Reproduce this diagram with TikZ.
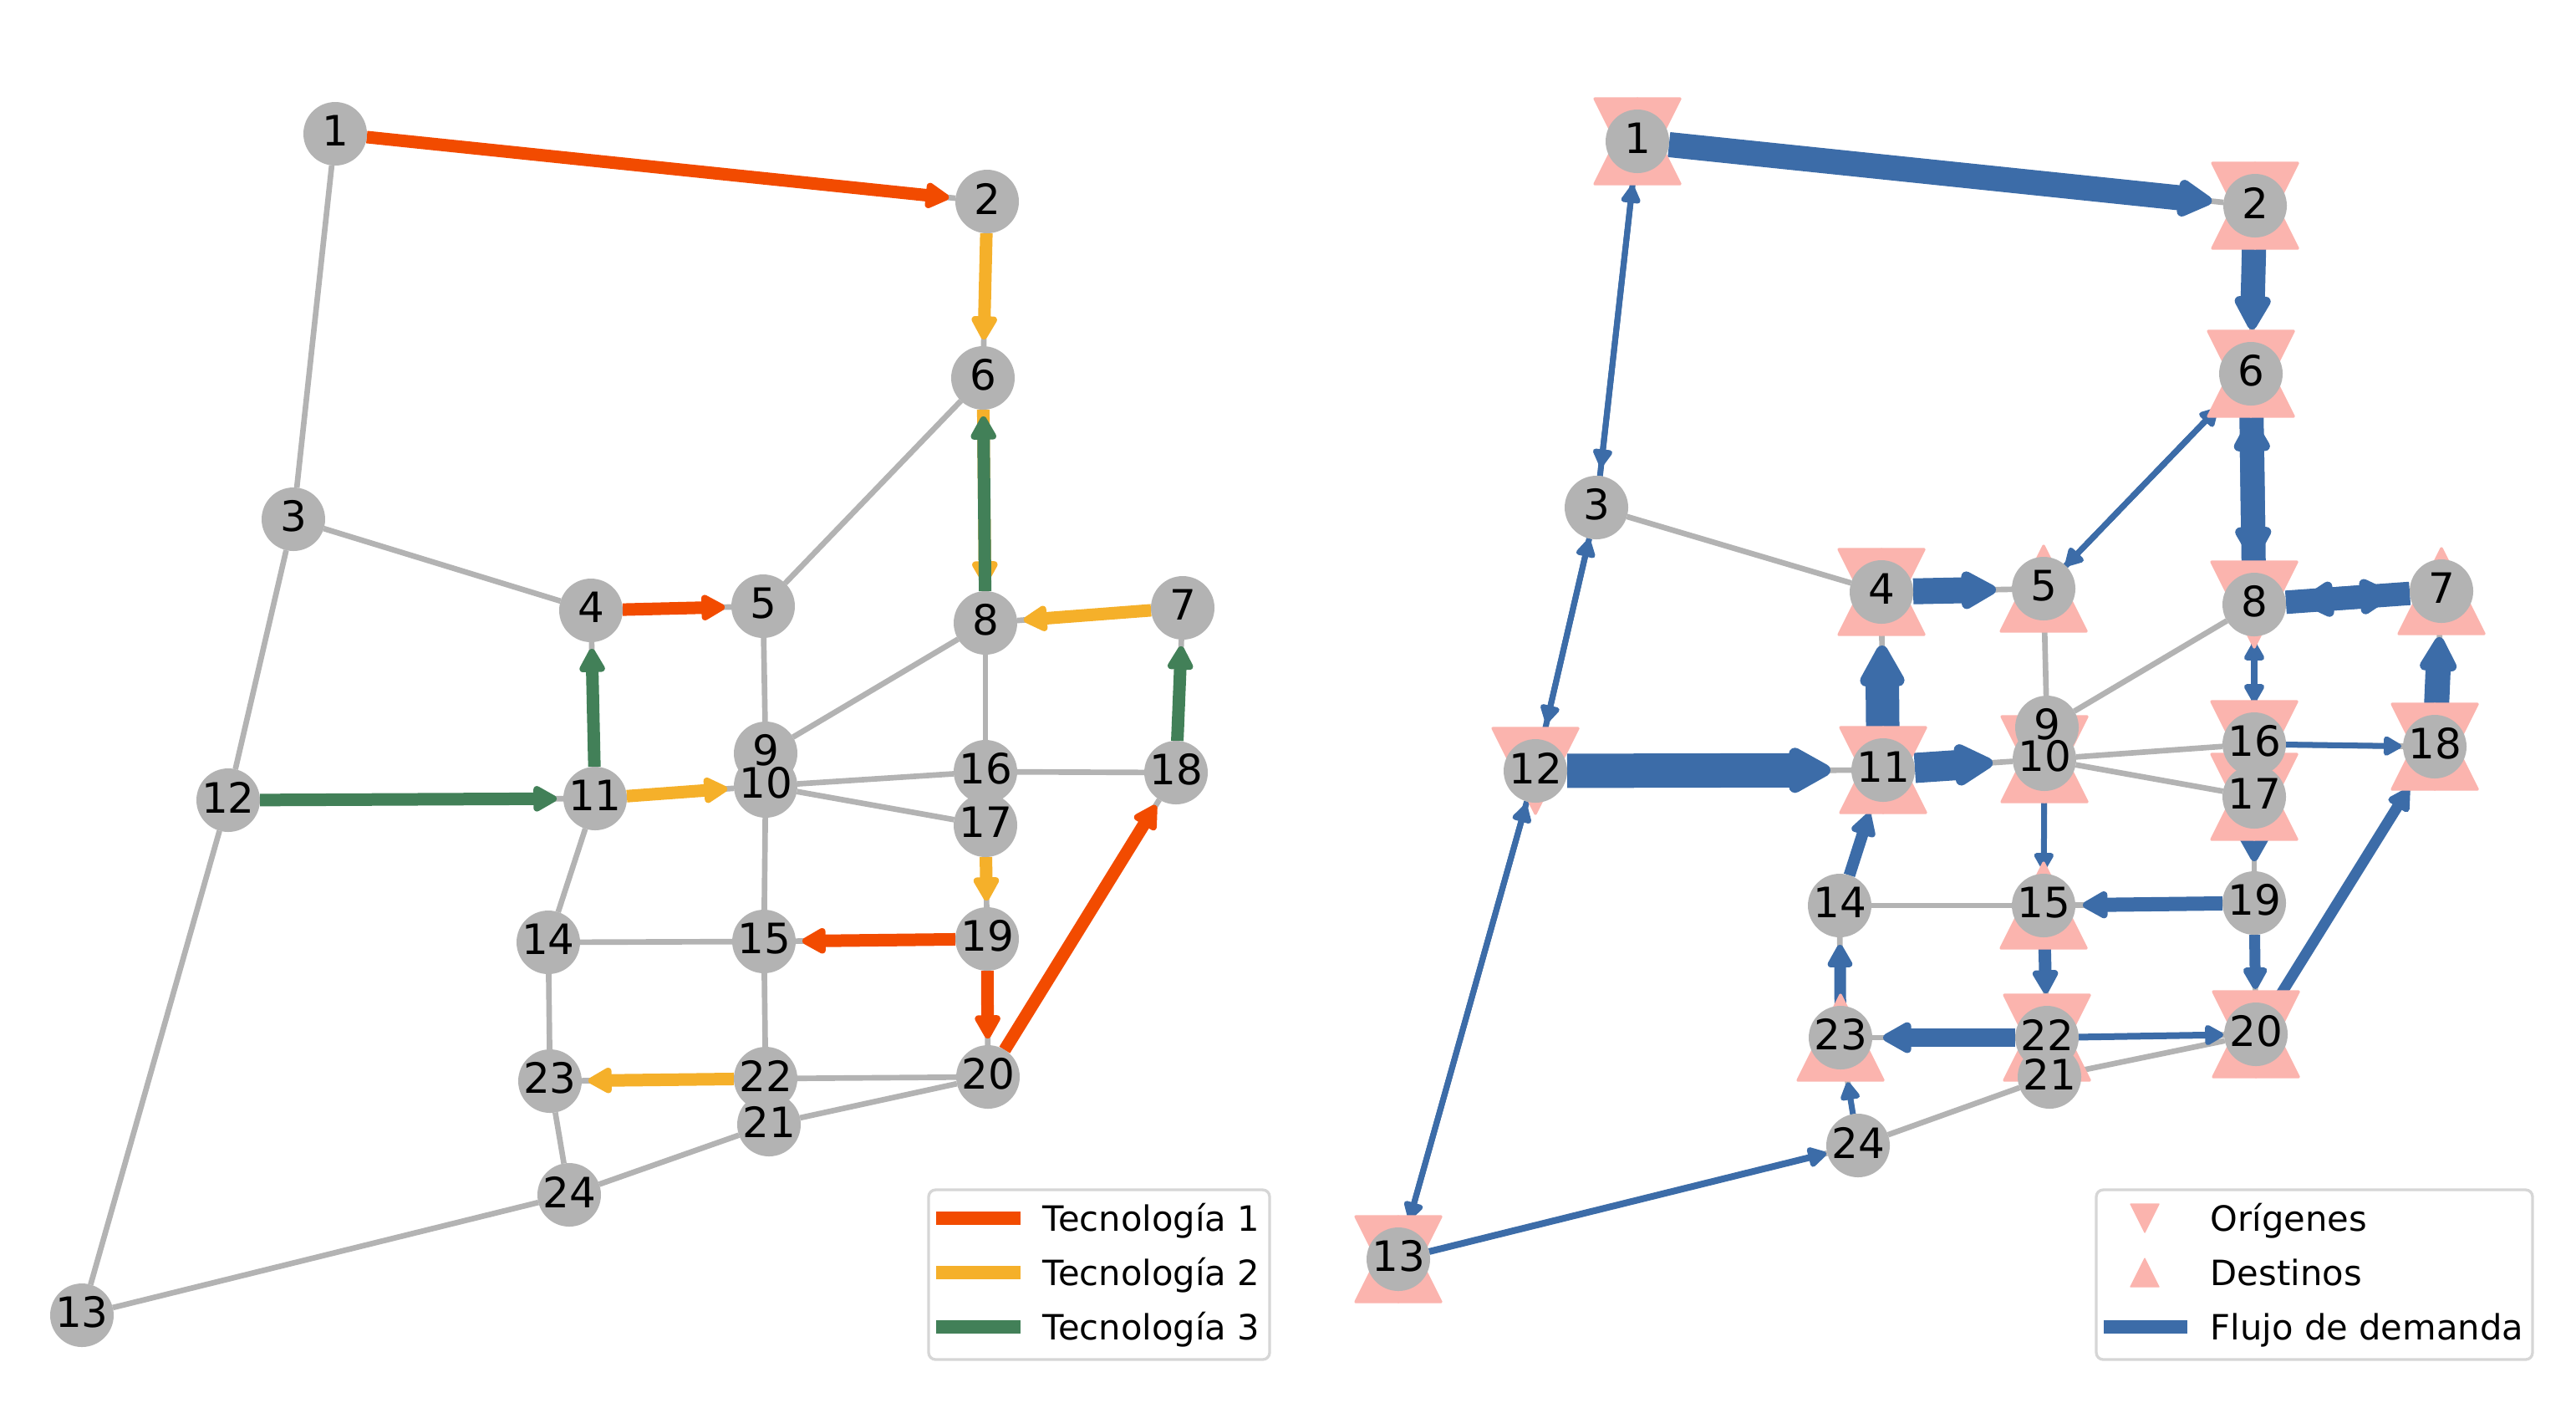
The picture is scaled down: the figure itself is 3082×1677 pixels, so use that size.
\documentclass[tikz,border=0pt]{standalone}
\usepackage{fontspec}
\setmainfont{DejaVu Sans}
\usetikzlibrary{arrows.meta}
\definecolor{ndgray}{RGB}{179,179,179}
\definecolor{tecA}{RGB}{242,75,0}
\definecolor{tecB}{RGB}{245,176,42}
\definecolor{tecC}{RGB}{66,128,88}
\definecolor{flowblue}{RGB}{60,108,168}
\definecolor{pinkc}{RGB}{251,180,174}
\definecolor{legedge}{RGB}{214,214,214}
\pgfdeclarelayer{edges}
\pgfdeclarelayer{flows}
\pgfdeclarelayer{tris}
\pgfsetlayers{edges,flows,tris,main}
\newcommand\otri[1]{\path[tri] ([shift={(-51,-51)}]#1.center) -- ([shift={(51,-51)}]#1.center) -- ([shift={(0,51)}]#1.center) -- cycle;}
\newcommand\dtri[1]{\path[tri] ([shift={(0,-51)}]#1.center) -- ([shift={(-51,51)}]#1.center) -- ([shift={(51,51)}]#1.center) -- cycle;}
\begin{document}
\begin{tikzpicture}[x=0.24pt,y=-0.24pt,
  nd/.style={circle,fill=ndgray,minimum size=18.24pt,inner sep=0pt,outer sep=0pt},
  lb/.style={inner sep=0pt,font=\fontsize{12}{14}\selectfont,yshift=0.8pt},
  gedge/.style={draw=ndgray,line width=1.6pt},
  tipA/.style={-{Triangle[round,length=4.2pt 1,width=4.5pt 1,line width=0pt 1]}},
  tec/.style={draw=#1,line width=3.6pt,shorten >=1.92pt,tipA},
  flw/.style 2 args={draw=flowblue,line width=#1*0.24pt,shorten >=#2*0.24pt,tipA},
  tri/.style={fill=pinkc,draw=pinkc,line width=0.8pt,line join=round},
  legbox/.style={draw=legedge,line width=0.8pt,rounded corners=2pt,fill=white},
  legtxt/.style={anchor=base west,inner sep=0pt,font=\fontsize{10}{12}\selectfont},
  legline/.style={line width=3.9pt}
]
\useasboundingbox (0,0) rectangle (3082,1677);

% ---------- nodes (circles) ----------
\foreach \n/\x/\y in {1/401/160,2/1181/241,3/351/621,4/707/730,5/913/725,6/1176/452,
  7/1415/727,8/1179/745,9/916/901,10/916/940,11/712/955,12/273/957,13/98/1573,
  14/656/1127,15/914/1126,16/1179/923,17/1179/987,18/1407/924,19/1181/1123,
  20/1182/1288,21/920/1345,22/916/1290,23/658/1293,24/681/1429}
  {\node[nd] (L\n) at (\x,\y) {};}
\foreach \n/\x/\y in {1/1959/169,2/2698/246,3/1910/607,4/2251/708,5/2445/704,6/2693/447,
  7/2921/707,8/2697/723,9/2449/870,10/2446/908,11/2253/921,12/1837/922,13/1673/1506,
  14/2201/1083,15/2445/1083,16/2697/890,17/2697/953,18/2913/893,19/2697/1080,
  20/2699/1237,21/2452/1288,22/2449/1241,23/2202/1241,24/2223/1370}
  {\node[nd] (R\n) at (\x,\y) {};}

% ---------- labels ----------
\foreach \n in {1,...,24} {
  \node[lb] (LT\n) at (L\n) {\n};
  \node[lb] (RT\n) at (R\n) {\n};
}

% ---------- network edges ----------
\begin{pgfonlayer}{edges}
\foreach \a/\b in {1/2,1/3,2/6,3/4,3/12,4/5,4/11,5/6,5/9,6/8,7/8,7/18,8/9,8/16,9/10,
  10/11,10/15,10/16,10/17,11/12,11/14,12/13,13/24,14/15,14/23,15/19,15/22,16/17,
  16/18,17/19,18/20,19/20,20/21,20/22,21/22,21/24,22/23,23/24} {
  \draw[gedge] (L\a) -- (L\b);
  \draw[gedge] (R\a) -- (R\b);
}
\end{pgfonlayer}

% ---------- technologies (left) ----------
\begin{pgfonlayer}{flows}
\foreach \a/\b in {1/2,4/5,19/15,19/20,20/18}
  {\draw[tec=tecA] (L\a) -- (L\b);}
\foreach \a/\b in {2/6,6/8,7/8,11/10,17/19,22/23}
  {\draw[tec=tecB] (L\a) -- (L\b);}
\foreach \a/\b in {8/6,11/4,12/11,18/7}
  {\draw[tec=tecC] (L\a) -- (L\b);}

% ---------- demand flows (right) ----------
\foreach \a/\b/\w/\s in {1/2/30/14,1/3/7/11,3/1/7/15,2/6/29/15,6/5/7/0,5/6/7/20,
  6/8/29/15,8/6/29/15,8/7/28/21,7/8/28/18,4/5/31/19,11/4/40/26,3/12/7/21,12/3/7/1,
  12/11/41/25,11/10/36/24,12/13/7/11,13/12/7/4,13/24/8/1,24/23/7/16,23/14/14/9,
  14/11/14/16,10/15/7/4,19/15/17/9,15/22/15/15,22/23/22/13,22/20/8/1,8/16/8/12,
  16/8/8/7,16/18/7/2,18/7/30/17,17/19/20/12,19/20/13/16,20/18/13/21}
  {\draw[flw={\w}{\s}] (R\a) -- (R\b);}
\end{pgfonlayer}

% ---------- origin / destination markers ----------
\begin{pgfonlayer}{tris}
\foreach \n in {1,2,4,6,8,10,11,12,13,16,17,18,20,22} {\otri{R\n}}
\foreach \n in {1,2,4,5,6,7,10,11,13,15,17,18,20,22,23} {\dtri{R\n}}
\end{pgfonlayer}

% ---------- legend left ----------
\draw[legbox] (1111,1423) rectangle (1519,1626);
\draw[legline,draw=tecA] (1120,1457) -- (1221,1457);
\draw[legline,draw=tecB] (1120,1522) -- (1221,1522);
\draw[legline,draw=tecC] (1120,1587) -- (1221,1587);
\node[legtxt] (lgA) at (1247,1472) {Tecnología 1};
\node[legtxt] (lgB) at (1247,1537) {Tecnología 2};
\node[legtxt] (lgC) at (1247,1602) {Tecnología 3};

% ---------- legend right ----------
\draw[legbox] (2508,1423) rectangle (3030,1626);
\path[tri,line width=0.3pt] (2549,1440) -- (2583,1440) -- (2566,1474) -- cycle;
\path[tri,line width=0.3pt] (2566,1505) -- (2549,1539) -- (2583,1539) -- cycle;
\draw[legline,draw=flowblue] (2517,1587) -- (2617,1587);
\node[legtxt] (lgO) at (2644,1472) {Orígenes};
\node[legtxt] (lgD) at (2644,1537) {Destinos};
\node[legtxt] (lgF) at (2644,1602) {Flujo de demanda};
\end{tikzpicture}
\end{document}
